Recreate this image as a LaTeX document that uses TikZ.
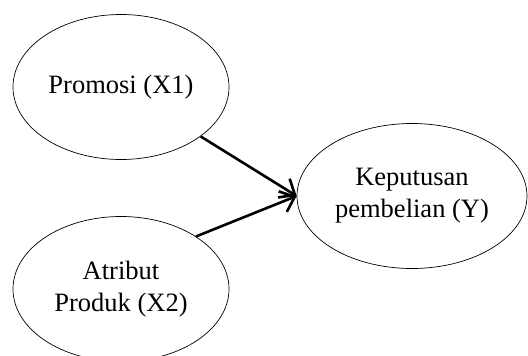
\documentclass[tikz,border=0pt]{standalone}
\usepackage{fontspec}
\setmainfont{Liberation Serif}
\usetikzlibrary{shapes.geometric,arrows.meta}
\begin{document}
\begin{tikzpicture}[x=1pt,y=-1pt,
  var/.style={draw=black,line width=0.7pt,ellipse,inner sep=0pt,
    minimum width=216pt,minimum height=145pt,align=center,
    font=\fontsize{26.5}{32}\selectfont},
  link/.style={draw=black,line width=2.6pt,
    -{Straight Barb[length=13pt,width=22pt,line width=2.6pt]}}]
\clip (0,0) rectangle (528,356);
\node[var] (x1) at (121,87) {Promosi (X1)};
\node[var] (x2) at (121,289) {Atribut\\Produk (X2)};
\node[var,minimum width=230pt] (y) at (412,196) {Keputusan\\pembelian (Y)};
\draw[link] (x1) -- (y.west);
\draw[link] (x2.35) -- (y.west);
\end{tikzpicture}
\end{document}
